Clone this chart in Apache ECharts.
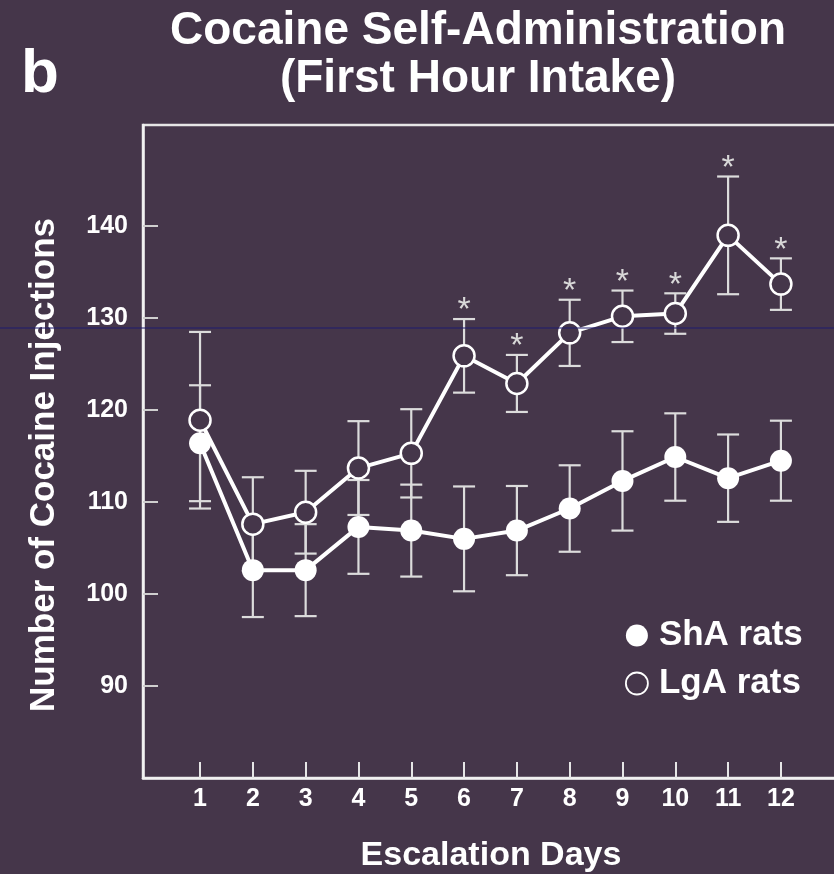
<!DOCTYPE html>
<html>
<head>
<meta charset="utf-8">
<script src="https://cdn.jsdelivr.net/npm/echarts@6/dist/echarts.min.js"></script>
<style>html,body{margin:0;padding:0;background:#45364a;}#c{width:834px;height:874px;}</style>
</head>
<body>
<div id="c"></div>
<script>
// ---- data ----
const days = [1, 2, 3, 4, 5, 6, 7, 8, 9, 10, 11, 12];
const shaMean = [116.4, 102.6, 102.6, 107.3, 106.9, 106.0, 106.9, 109.3, 112.3, 114.9, 112.6, 114.5];
const shaSem  = [6.3, 5.1, 5.0, 5.1, 5.0, 5.7, 4.85, 4.7, 5.4, 4.75, 4.75, 4.35];
const lgaMean = [118.9, 107.6, 108.9, 113.7, 115.3, 125.9, 122.9, 128.4, 130.2, 130.5, 139.0, 133.7];
const lgaSem  = [9.6, 5.1, 4.5, 5.1, 4.8, 4.0, 3.1, 3.6, 2.8, 2.2, 6.4, 2.8];
const lgaSig  = [0, 0, 0, 0, 0, 1, 1, 1, 1, 1, 1, 1];
const shaSig  = [0, 0, 0, 0, 0, 0, 0, 0, 0, 0, 0, 0];
const yTicks = [90, 100, 110, 120, 130, 140];
const xTicks = days;

const bg = '#45364a';
const FONT = '"Liberation Sans", Arial, Helvetica, sans-serif';

const chart = echarts.init(document.getElementById('c'), null, {renderer: 'canvas'});

function errSeries(name, mean, sem, sig) {
  return {
    name: name,
    type: 'custom',
    z: 1,
    silent: true,
    data: days.map((d, i) => [d, mean[i], sem[i], sig[i]]),
    encode: {x: 0, y: 1},
    renderItem: function (params, api) {
      const x = api.value(0), m = api.value(1), s = api.value(2), g = api.value(3);
      const top = api.coord([x, m + s]);
      const bot = api.coord([x, m - s]);
      const hw = 11;
      const st = {stroke: '#dcdcdc', lineWidth: 2.2};
      const children = [
        {type: 'line', shape: {x1: top[0], y1: top[1], x2: bot[0], y2: bot[1]}, style: st},
        {type: 'line', shape: {x1: top[0] - hw, y1: top[1], x2: top[0] + hw, y2: top[1]}, style: st},
        {type: 'line', shape: {x1: bot[0] - hw, y1: bot[1], x2: bot[0] + hw, y2: bot[1]}, style: st}
      ];
      if (g) {
        children.push({
          type: 'text',
          style: {text: '*', x: top[0], y: top[1] - 8, align: 'center', verticalAlign: 'middle',
                  fill: '#d8d8d8', font: '34px ' + FONT}
        });
      }
      return {type: 'group', children: children};
    }
  };
}

const option = {
  backgroundColor: bg,
  animation: false,
  grid: {left: 143, right: -5, top: 125, bottom: 96, show: true, borderColor: '#e6e6e6', borderWidth: 2.5,
         containLabel: false, outerBoundsMode: 'none'},
  xAxis: {
    type: 'value', min: -0.08, max: 13.1,
    name: 'Escalation Days', nameLocation: 'middle', nameGap: 61,
    nameTextStyle: {color: '#fff', fontSize: 34, fontWeight: 'bold', fontFamily: FONT},
    axisLine: {show: true, onZero: false, lineStyle: {color: '#f2f2f2', width: 2.5}},
    axisTick: {show: true, inside: true, length: 16, customValues: xTicks, lineStyle: {color: '#e6e6e6', width: 2}},
    axisLabel: {customValues: xTicks, color: '#fff', fontSize: 25, fontWeight: 'bold', fontFamily: FONT, margin: 9},
    splitLine: {show: false}
  },
  yAxis: {
    type: 'value', min: 80, max: 151,
    axisLine: {show: true, onZero: false, lineStyle: {color: '#f2f2f2', width: 2.5}},
    axisTick: {show: true, inside: true, length: 15, customValues: yTicks, lineStyle: {color: '#cfcfcf', width: 2}},
    axisLabel: {customValues: yTicks, color: '#fff', fontSize: 25, fontWeight: 'bold', fontFamily: FONT, margin: 15},
    splitLine: {show: false}
  },
  legend: {
    orient: 'vertical', left: 620, top: 613, itemWidth: 22, itemHeight: 22, itemGap: 13,
    textStyle: {color: '#fff', fontSize: 35, fontWeight: 'bold', fontFamily: FONT, lineHeight: 35, padding: [0, 0, 0, 6]},
    data: [
      {name: 'ShA rats', icon: 'circle', itemStyle: {color: '#fff', borderWidth: 0}},
      {name: 'LgA rats', icon: 'circle', itemStyle: {color: bg, borderColor: '#fff', borderWidth: 1.8}}
    ]
  },
  graphic: [
    {type: 'text', left: 21, top: 44, style: {text: 'b', fill: '#fff', font: 'bold 62px ' + FONT}},
    {type: 'text', x: 478, y: 31, style: {text: 'Cocaine Self-Administration', fill: '#fff', align: 'center', verticalAlign: 'middle', font: 'bold 46px ' + FONT}},
    {type: 'text', x: 478, y: 79, style: {text: '(First Hour Intake)', fill: '#fff', align: 'center', verticalAlign: 'middle', font: 'bold 46px ' + FONT}},
    {type: 'text', x: 44, y: 465, rotation: Math.PI / 2, style: {text: 'Number of Cocaine Injections', fill: '#fff', align: 'center', verticalAlign: 'middle', font: 'bold 35px ' + FONT}},
    {type: 'line', z: 100, shape: {x1: 0, y1: 328, x2: 834, y2: 328}, style: {stroke: '#1f1b6e', lineWidth: 1}}
  ],
  series: [
    errSeries('LgA err', lgaMean, lgaSem, lgaSig),
    errSeries('ShA err', shaMean, shaSem, shaSig),
    {
      name: 'LgA rats', type: 'line', z: 3,
      data: days.map((d, i) => [d, lgaMean[i]]),
      symbol: 'circle', symbolSize: 21,
      lineStyle: {color: '#fff', width: 4},
      itemStyle: {color: bg, borderColor: '#fff', borderWidth: 2.5}
    },
    {
      name: 'ShA rats', type: 'line', z: 4,
      data: days.map((d, i) => [d, shaMean[i]]),
      symbol: 'circle', symbolSize: 22,
      lineStyle: {color: '#fff', width: 4},
      itemStyle: {color: '#fff', borderWidth: 0}
    }
  ]
};
chart.setOption(option);
</script>
</body>
</html>
